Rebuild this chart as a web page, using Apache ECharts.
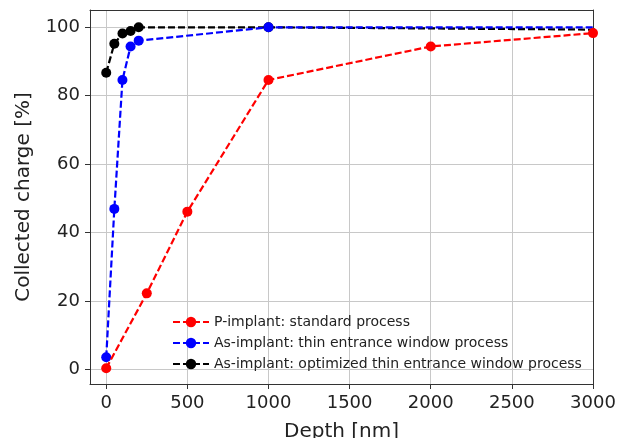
<!DOCTYPE html>
<html>
<head>
<meta charset="utf-8">
<script src="https://cdn.jsdelivr.net/npm/echarts@6/dist/echarts.min.js"></script>
<style>html,body{margin:0;padding:0;background:#fff}#c{width:618px;height:438px}</style>
</head>
<body>
<div id="c"></div>
<script>
const seriesNames = [
  'P-implant: standard process',
  'As-implant: thin entrance window process',
  'As-implant: optimized thin entrance window process'
];
const redDepth = [0, 250, 500, 1000, 2000, 3000];
const redCharge = [0.3, 22.2, 46.1, 84.6, 94.4, 98.3];
const blueDepth = [0, 50, 100, 150, 200, 1000, 4000];
const blueCharge = [3.5, 46.9, 84.6, 94.4, 96.1, 100, 100];
const blackDepth = [0, 50, 100, 150, 200, 1000, 4000];
const blackCharge = [86.7, 95.2, 98.2, 98.9, 100, 100, 99.0];
const xTicks = [0, 500, 1000, 1500, 2000, 2500, 3000];
const yTicks = [0, 20, 40, 60, 80, 100];

const pairs = (xs, ys) => xs.map((x, i) => [x, ys[i]]);
const font = 'DejaVu Sans';
const mk = (name, color, xs, ys, z) => ({
  name, type: 'line', data: pairs(xs, ys), z,
  symbol: 'circle', symbolSize: 10, showAllSymbol: true,
  itemStyle: { color },
  lineStyle: { color, width: 2.2, type: [7, 3] },
  emphasis: { disabled: true }, animation: false, clip: true
});
const frameLine = { show: true, onZero: false, lineStyle: { color: '#333', width: 1 } };

const chart = echarts.init(document.getElementById('c'));
chart.setOption({
  animation: false,
  backgroundColor: '#fff',
  grid: { left: 90, right: 25, top: 10, bottom: 54, outerBoundsMode: 'none', containLabel: false, show: false },
  legend: {
    orient: 'vertical', left: 167, top: 310,
    itemWidth: 36, itemHeight: 13, itemGap: 7,
    textStyle: { fontFamily: font, fontSize: 14, color: '#222', lineHeight: 14 },
    data: seriesNames
  },
  xAxis: [{
    type: 'value', min: -100, max: 3000, position: 'bottom',
    name: 'Depth [nm]', nameLocation: 'middle', nameGap: 38,
    nameTextStyle: { fontFamily: font, fontSize: 20, color: '#222' },
    axisLine: frameLine,
    axisTick: { show: true, length: 5, lineStyle: { color: '#333' }, customValues: xTicks },
    axisLabel: { fontFamily: font, fontSize: 18, color: '#222', margin: 10, customValues: xTicks,
                 formatter: v => String(v) },
    splitLine: { show: true, lineStyle: { color: '#c8c8c8', width: 1 } }
  }, {
    type: 'value', min: -100, max: 3000, position: 'top',
    axisLine: frameLine, axisTick: { show: false }, axisLabel: { show: false }, splitLine: { show: false }
  }],
  yAxis: [{
    type: 'value', min: -4.3, max: 105.06, position: 'left',
    name: 'Collected charge [%]', nameLocation: 'middle', nameGap: 56,
    nameTextStyle: { fontFamily: font, fontSize: 20, color: '#222' },
    axisLine: frameLine,
    axisTick: { show: true, length: 5, lineStyle: { color: '#333' }, customValues: yTicks },
    axisLabel: { fontFamily: font, fontSize: 18, color: '#222', margin: 10, customValues: yTicks,
                 formatter: v => String(v) },
    splitLine: { show: true, lineStyle: { color: '#c8c8c8', width: 1 } }
  }, {
    type: 'value', min: -4.3, max: 105.06, position: 'right',
    axisLine: frameLine, axisTick: { show: false }, axisLabel: { show: false }, splitLine: { show: false }
  }],
  series: [
    mk(seriesNames[0], '#ff0000', redDepth, redCharge, 4),
    mk(seriesNames[1], '#0000ff', blueDepth, blueCharge, 3),
    mk(seriesNames[2], '#000000', blackDepth, blackCharge, 2)
  ]
});
</script>
</body>
</html>
